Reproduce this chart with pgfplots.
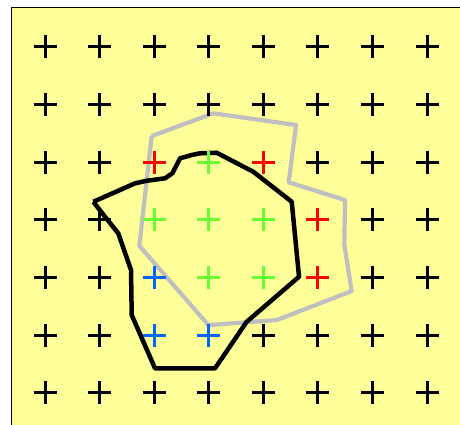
\documentclass[border=0pt]{standalone}
\usepackage{pgfplots}
\pgfplotsset{compat=1.18}
\definecolor{bg}{HTML}{FFFF99}
\definecolor{mred}{HTML}{FF0000}
\definecolor{mgreen}{HTML}{66FF33}
\definecolor{mblue}{HTML}{0066FF}
\definecolor{mgray}{HTML}{BFBFBF}
\pgfplotsset{plusmk/.style={only marks, mark=+, mark size=11.5pt, mark options={line width=3pt, solid}}}
\begin{document}
\begin{tikzpicture}
\useasboundingbox (-11.5pt,7pt) rectangle (448.5pt,432pt);
\clip (-11.5pt,7pt) rectangle (448.5pt,432pt);
\begin{axis}[
  scale only axis, width=449pt, height=424.5pt,
  xmin=0.386, xmax=8.614, ymin=0.32, ymax=7.68,
  xtick=\empty, ytick=\empty,
  axis background/.style={fill=bg},
  axis line style={line width=1.5pt, black},
  clip=false,
]
% black marks
\addplot[plusmk, black] coordinates {
(1,7)(2,7)(3,7)(4,7)(5,7)(6,7)(7,7)(8,7)
(1,6)(2,6)(3,6)(4,6)(5,6)(6,6)(7,6)(8,6)
(1,5)(2,5)(6,5)(7,5)(8,5)
(1,4)(2,4)(7,4)(8,4)
(1,3)(2,3)(7,3)(8,3)
(1,2)(2,2)(5,2)(6,2)(7,2)(8,2)
(1,1)(2,1)(3,1)(4,1)(5,1)(6,1)(7,1)(8,1)
};
% red marks
\addplot[plusmk, mred] coordinates {
(3,5)(5,5)(6,4)(6,3)
};
% green marks
\addplot[plusmk, mgreen] coordinates {
(4,5)(3,4)(4,4)(5,4)(4,3)(5,3)
};
% blue marks
\addplot[plusmk, mblue] coordinates {
(3,3)(3,2)(4,2)
};
% gray polygon
\addplot[mgray, line width=4.2pt, line join=round, mark=none] coordinates {
(2.955,5.451)(4.084,5.845)(5.600,5.642)(5.466,4.649)(6.498,4.342)
(6.485,3.561)(6.620,2.764)(5.246,2.261)(3.993,2.174)(2.728,3.549)
(2.955,5.451)
};
% black polygon
\addplot[black, line width=4.5pt, line join=round, mark=none] coordinates {
(1.885,4.312)(2.649,4.631)(2.864,4.676)(3.199,4.718)(3.333,4.805)
(3.413,4.949)(3.474,5.065)(3.688,5.122)(3.840,5.152)(4.146,5.162)
(4.817,4.832)(5.521,4.312)(5.655,3.012)(4.696,2.231)(4.115,1.423)
(3.016,1.423)(2.589,2.348)(2.576,3.128)(2.343,3.764)(2.100,4.052)
(1.885,4.312)
};
\end{axis}
\end{tikzpicture}
\end{document}
